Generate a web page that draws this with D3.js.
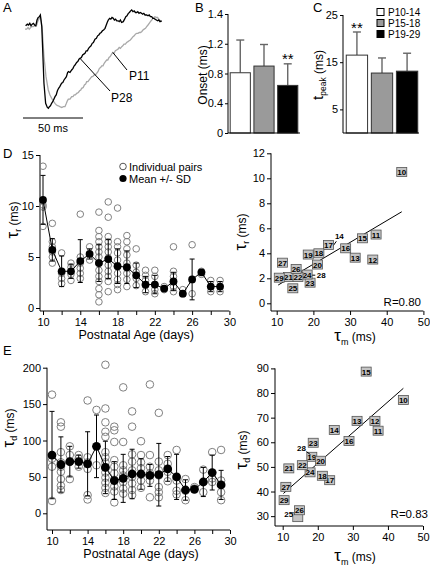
<!DOCTYPE html>
<html><head><meta charset="utf-8">
<script src="https://cdn.jsdelivr.net/npm/d3@7"></script>
<style>body{margin:0;background:#fff}svg{display:block;font-family:"Liberation Sans",Arial,sans-serif}</style>
</head><body><svg id="c" width="430" height="567"></svg>
<script>
// ---------------- DATA ----------------
// Panel A: sample traces (time ms, normalized amplitude %)
const traceP28 = [[0.5,-1],[2,1],[3,0],[4,2],[5,-1],[6,1],[7,2],[8,0],[9,-1],[10,6],[11,9],[12,10],[12.8,12],[13.5,4],[14,-2],[14.75,-30],[15.8,-70],[17.2,-94],[18.6,-99],[19.5,-100],[20.3,-98],[21.2,-97],[22.2,-94],[23.5,-91],[25,-86],[26,-84],[27,-79],[28,-76],[29,-74],[30.5,-70],[31.5,-69],[32.5,-66],[33.5,-64],[34.5,-62],[35.5,-57],[36.2,-56],[37.5,-57],[38.9,-54],[40,-52],[41,-49],[41.7,-48],[43,-45],[44,-44],[45,-41],[45.8,-40],[47,-39],[48,-36],[49,-35],[50,-34],[51,-31],[52,-31],[53,-28],[54.2,-26],[55,-25],[56,-22],[57,-21],[58.3,-17],[59.5,-16],[60.5,-13],[61.5,-12],[62.5,-10],[63.5,-9],[64.5,-7],[65.5,-6],[66.7,-4],[67.5,-1],[68.5,3],[69.4,6],[70.5,8],[71.5,7],[72.5,9],[73.6,8],[74.5,6],[75.5,7],[76.5,5],[77.7,5],[78.5,4],[79.5,6],[80.5,3],[81.9,4],[83,7],[84,10],[85,11],[86.1,14],[87,15],[88,17],[88.9,18],[90,16],[91,17],[92,15],[93.1,15],[94,16],[95,14],[96,15],[97.2,14],[98,13],[99,14],[100,12],[101.4,12],[102.5,11],[103.5,12],[104.5,10],[105.6,10],[106.5,8],[107.5,8],[108.3,7],[109.5,6],[110.5,5],[111.5,6],[112.5,4],[113.9,5]];
const traceP11 = [[0,-5],[1.4,-5],[2.5,-3],[3.5,-5],[4.2,-4],[5.5,-2],[6.9,-2],[8,-1],[9.75,0],[10.8,5],[11.9,8],[12.7,10],[13.5,4],[14.4,-6],[15.8,-38],[17.5,-62],[19.4,-78],[20.8,-84],[22.2,-88],[23.5,-91],[25,-94],[26.2,-96],[27.7,-97],[29,-98],[30.6,-99],[32,-98],[33.3,-98],[34.5,-94],[35.3,-91],[36.1,-89],[37.5,-89],[38.9,-86],[40,-86],[41,-84],[42,-84],[43.1,-82],[44.5,-81],[45.5,-79],[46.5,-78],[47.2,-76],[48.5,-75],[49.5,-72],[50.5,-71],[51.4,-68],[52.5,-68],[53.5,-66],[54.5,-64],[55.6,-62],[56.5,-62],[57.5,-60],[58.5,-60],[59.7,-58],[60.8,-56],[62,-52],[63,-51],[63.9,-49],[65,-49],[66,-46],[67,-44],[68.1,-42],[69,-42],[70,-39],[71,-38],[72.2,-35],[73.2,-33],[74.2,-34],[75.3,-31],[76.4,-30],[77.5,-29],[78.5,-27],[79.5,-28],[80.6,-26],[81.5,-25],[82.5,-23],[83.7,-23],[84.7,-21],[85.8,-20],[86.8,-19],[87.8,-18],[88.9,-16],[90,-14],[91,-13],[92,-11],[93.1,-10],[94.2,-10],[95.2,-9],[96.2,-9],[97.2,-8],[98.3,-6],[99.3,-5],[100.4,-4],[101.4,-2],[102.5,0],[103.5,2],[104.5,4],[105.6,6],[106.5,8],[107.4,9],[108.3,10],[109.5,9],[110.5,9],[111,8],[112,6],[113,5],[113.9,4]];
const scaleBarMs = 50;

// Panels B, C
const groups = ["P10-14","P15-18","P19-29"];
const onsetMean = [0.81,0.90,0.64];
const onsetSD = [0.44,0.29,0.29];
const onsetTicks = [0,0.4,0.8,1.2,1.6];
const onsetTickLabels = ["0","0.4","0.8","1.2","1.4"];
const tpeakMean = [16.5,12.7,13.1];
const tpeakSD = [4.9,3.2,3.8];
const tpeakTicks = [5,15,25];

// Panel D/E left: postnatal age
const ages = [10,11,12,13,14,15,16,17,18,19,20,21,22,23,24,25,26,27,28,29];
const tauRPairs = [
 [13.9,10.1,9.9,8.0],[8.3,6.5,6.0,5.5,5.0,4.4],[5.4,3.4,2.9,2.4],[4.4,4.0,3.3,2.7],
 [9.2,5.0,4.4,3.9,3.4,2.9],[6.0,4.7],[9.4,7.6,7.0,6.5,6.0,5.5,5.0,4.4,3.7,3.1,2.6,1.9,1.3,0.6],
 [10.4,8.9,7.0,6.5,6.0,5.5,4.9,4.2,3.6,3.1,2.6,1.6],[9.8,6.5,6.0,5.4,4.7,4.1,3.4,2.8,2.3,1.8],
 [7.1,6.5,5.8,5.2,4.4,3.9,3.4,2.8,2.1],[5.8,4.2,3.5,2.9,2.2],[3.7,3.2,2.7,2.2,1.6],
 [3.7,3.1,2.3,1.8,1.4],[2.1,1.8],[6.0,3.6,3.1,2.6,2.1,1.6],[1.8,1.4],[6.2,1.4],[3.6,3.3],[2.7,1.6],[2.7,1.6]];
const tauRMean = [10.6,5.7,3.6,3.6,4.6,5.3,4.4,4.8,4.1,4.0,3.2,2.3,2.3,1.9,2.6,1.4,2.8,3.5,2.1,2.1];
const tauRSD = [2.4,1.1,1.5,0.7,2.1,0.5,1.8,1.9,1.7,1.6,1.2,0.8,0.9,0.2,0.9,0.2,2.0,0.2,0.5,0.5];
const tauDPairs = [
 [163,75,64,17],[125,119,84,70,64,57,47,38,32],[92,80,71,47],[80,75,64],[155,77,70,61,25,19],[142,66],
 [204,144,125,112,105,84,77,70,63,56,49,42,35,28],[119,114,98,73,64,55,46,37,30,15],[173,98,66,59,52,43,34,27],
 [140,119,81,71,59,50,41,32,25],[99,80,70,62,53,45,35],[177,80,64,55,45,22],[138,71,59,52,36,29,22],
 [80,68,57,44],[87,45,31,26],[47,31,18],[36,34],[60,43,29],[84,48,43],[87,45,29,18]];
const tauDMean = [80,67,71,71,68,92,63,45,48,54,54,52,53,61,50,32,33,43,56,39];
const tauDSD = [60,38,21,9,44,43,36,26,33,34,21,15,43,17,31,14,3,20,24,20];
const ageTicks = [10,12,14,16,18,20,22,24,26,28,30];
const ageTickLabels = ["10","","14","","18","","22","","26","","30"];

// Right scatter plots: per-age means vs membrane time constant
const pointLabels = ["10","11","12","13","14","15","16","17","18","19","20","21","22","23","24","25","26","27","28","29"];
const rTauM = [44.1,37.1,36.2,31.4,24.9,33.4,28.8,24.1,21.5,18.6,21.1,13.2,15.8,19.1,18.3,14.4,15.3,11.6,19.7,10.7];
const rTauR = [10.5,5.5,3.5,3.65,4.4,5.2,4.4,4.66,4.0,3.9,3.1,2.1,2.1,1.65,2.3,1.2,2.75,3.25,2.25,2.05];
const rFit = {slope:0.174, intercept:-0.35, from:10.4, to:44.1, R:"R=0.80"};
const dTauM = [44.4,37.2,36.3,31.2,24.7,33.8,28.9,23.4,21.3,18.3,20.8,11.75,15.6,18.7,17.8,14.3,14.8,10.9,17.9,10.4];
const dTauD = [77.2,64.7,68.7,68.7,65,88.7,60.5,44.6,46.4,54.1,52.5,49.4,50.7,59.8,47.8,29.6,32.4,41.9,55,36.5];
const dFit = {slope:1.249, intercept:26.46, from:10.2, to:44.4, R:"R=0.83"};

// ---------------- DRAWING ----------------
const svg = d3.select("#c");
const FS = 11;
function txt(x,y,s,size,anchor){return svg.append("text").attr("x",x).attr("y",y).attr("font-size",size||FS).attr("text-anchor",anchor||"start").text(s);}
function styleAxis(g){g.attr("font-family",null).attr("font-size",FS);g.select(".domain").remove();g.selectAll(".tick line").attr("stroke","#000");g.selectAll(".tick text").attr("fill","#000");}
function vline(x,y1,y2){svg.append("line").attr("x1",x).attr("x2",x).attr("y1",y1).attr("y2",y2).attr("stroke","#000");}
function hline(y,x1,x2){svg.append("line").attr("x1",x1).attr("x2",x2).attr("y1",y).attr("y2",y).attr("stroke","#000");}
function yLabelTau(x,y,sub){
  const t=svg.append("text").attr("transform",`translate(${x},${y}) rotate(-90)`).attr("text-anchor","middle");
  t.append("tspan").attr("font-size",17).text("τ");
  t.append("tspan").attr("font-size",9).attr("dy",3).text(sub);
  t.append("tspan").attr("font-size",12).attr("dy",-3).text(" (ms)");
}
function xLabelTau(x,y,sub){
  const t=svg.append("text").attr("x",x).attr("y",y).attr("text-anchor","middle");
  t.append("tspan").attr("font-size",17).text("τ");
  t.append("tspan").attr("font-size",9).attr("dy",4).text(sub);
  t.append("tspan").attr("font-size",12).attr("dy",-4).text("  (ms)");
}

// Panel A
txt(3,12,"A",13);
const xA = d3.scaleLinear().domain([0,115]).range([25,163]);
const yA = d3.scaleLinear().domain([-100,18]).range([108.3,10]);
const lineA = d3.line().x(d=>xA(d[0])).y(d=>yA(d[1]));
svg.append("path").attr("d",lineA(traceP11)).attr("fill","none").attr("stroke","#a8a8a8").attr("stroke-width",1.3);
svg.append("path").attr("d",lineA(traceP28)).attr("fill","none").attr("stroke","#000").attr("stroke-width",1.3);
const pB = traceP28.find(d=>d[0]>=45.8), pG = traceP11.find(d=>d[0]>=73.2);
svg.append("line").attr("x1",xA(pB[0])).attr("y1",yA(pB[1])).attr("x2",110).attr("y2",91).attr("stroke","#000");
svg.append("line").attr("x1",xA(pG[0])).attr("y1",yA(pG[1])).attr("x2",127).attr("y2",70).attr("stroke","#000");
txt(129,80,"P11",12);
txt(111,102,"P28",12);
hline(118,23,23+xA(scaleBarMs)-xA(0));
txt(53,132,"50 ms",11,"middle");

// Panel B
txt(195,12,"B",13);
const xB = d3.scaleBand().domain(groups).range([229,299]).paddingInner(0.15).paddingOuter(0.05);
const yB = d3.scaleLinear().domain([0,1.6]).range([133,14]);
const fills = ["#ffffff","#9a9a9a","#000000"];
function bars(xs,ys,means,sds){
  groups.forEach((g,i)=>{
    const cx = xs(g)+xs.bandwidth()/2;
    svg.append("line").attr("x1",cx).attr("x2",cx).attr("y1",ys(means[i])).attr("y2",ys(means[i]+sds[i])).attr("stroke","#666").attr("stroke-width",1.4);
    svg.append("line").attr("x1",cx-4).attr("x2",cx+4).attr("y1",ys(means[i]+sds[i])).attr("y2",ys(means[i]+sds[i])).attr("stroke","#666").attr("stroke-width",1.4);
    svg.append("rect").attr("x",xs(g)).attr("width",xs.bandwidth()).attr("y",ys(means[i])).attr("height",ys(0)-ys(means[i])).attr("fill",fills[i]).attr("stroke","#333");
  });
}
bars(xB,yB,onsetMean,onsetSD);
styleAxis(svg.append("g").attr("transform","translate(228,0)").call(d3.axisLeft(yB).tickValues(onsetTicks).tickFormat((d,i)=>onsetTickLabels[i]).tickSize(3).tickPadding(2)));
vline(228,14,133); hline(133,228,300);
txt(xB(groups[2])+xB.bandwidth()/2,64,"**",15,"middle");
svg.append("text").attr("transform","translate(207,75) rotate(-90)").attr("text-anchor","middle").attr("font-size",12).text("Onset (ms)");

// Panel C
txt(313,12,"C",13);
const xC = d3.scaleBand().domain(groups).range([345,419]).paddingInner(0.15).paddingOuter(0.05);
const yC = d3.scaleLinear().domain([0,25]).range([133,15]);
bars(xC,yC,tpeakMean,tpeakSD);
styleAxis(svg.append("g").attr("transform","translate(343,0)").call(d3.axisLeft(yC).tickValues(tpeakTicks).tickSize(3).tickPadding(2)));
vline(343,15,133); hline(133,343,419);
txt(xC(groups[0])+xC.bandwidth()/2,33,"**",15,"middle");
{const t=svg.append("text").attr("transform","translate(323,75) rotate(-90)").attr("text-anchor","middle");
 t.append("tspan").attr("font-size",15).text("t");
 t.append("tspan").attr("font-size",8.5).attr("dy",3).text("peak");
 t.append("tspan").attr("font-size",12).attr("dy",-3).text(" (ms)");}
groups.forEach((g,i)=>{
  svg.append("rect").attr("x",377).attr("y",8.5+i*11).attr("width",7).attr("height",7).attr("fill",fills[i]).attr("stroke","#000");
  txt(388,16+i*11,g,10);
});

// Scatter by age (D left, E left)
function agePanel(o){
  const x = d3.scaleLinear().domain([10,30]).range(o.xr);
  const y = d3.scaleLinear().domain(o.yd).range(o.yr);
  styleAxis(svg.append("g").attr("transform",`translate(${o.ax},0)`).call(d3.axisLeft(y).tickValues(o.yt).tickSize(4).tickPadding(2)));
  styleAxis(svg.append("g").attr("transform",`translate(0,${o.ay})`).call(d3.axisBottom(x).tickValues(ageTicks).tickFormat((d,i)=>ageTickLabels[i]).tickSize(4).tickPadding(3)));
  vline(o.ax,y(o.yd[1]),o.ay); hline(o.ay,o.ax,x(30));
  ages.forEach((a,i)=>{
    o.pairs[i].forEach(v=>svg.append("circle").attr("cx",x(a)).attr("cy",y(v)).attr("r",o.r).attr("fill","none").attr("stroke","#808080").attr("stroke-width",1));
  });
  ages.forEach((a,i)=>{
    const t=y(o.mean[i]+o.sd[i]), b=y(Math.max(0,o.mean[i]-o.sd[i]));
    vline(x(a),t,b); hline(t,x(a)-2.5,x(a)+2.5); hline(b,x(a)-2.5,x(a)+2.5);
  });
  svg.append("path").attr("d",d3.line().x((d,i)=>x(ages[i])).y(d=>y(d))(o.mean)).attr("fill","none").attr("stroke","#000");
  ages.forEach((a,i)=>svg.append("circle").attr("cx",x(a)).attr("cy",y(o.mean[i])).attr("r",o.r+0.6).attr("fill","#000"));
  txt((o.xr[0]+x(30))/2,o.ay+28,"Postnatal Age (days)",12.5,"middle");
}
txt(3,158,"D",13);
agePanel({xr:[43,229.4],yd:[0,15],yr:[308,155],yt:[0,5,10,15],ax:40,ay:311,r:3.3,pairs:tauRPairs,mean:tauRMean,sd:tauRSD});
yLabelTau(18,220,"r");
svg.append("circle").attr("cx",123).attr("cy",166.5).attr("r",3.3).attr("fill","none").attr("stroke","#555");
txt(129,170.5,"Individual pairs",11);
svg.append("circle").attr("cx",123).attr("cy",178.5).attr("r",3.6).attr("fill","#000");
txt(129,182.5,"Mean +/- SD",11);

txt(3,355,"E",13);
agePanel({xr:[52,230],yd:[0,200],yr:[513.3,367.7],yt:[0,50,100,150,200],ax:47,ay:530,r:3.8,pairs:tauDPairs,mean:tauDMean,sd:tauDSD});
yLabelTau(14,428,"d");

// Right scatters
function scatterPanel(o){
  const x = d3.scaleLinear().domain([10,50]).range(o.xr);
  const y = d3.scaleLinear().domain(o.yd).range(o.yr);
  styleAxis(svg.append("g").attr("transform",`translate(${o.ax},0)`).call(d3.axisLeft(y).tickValues(o.yt).tickSize(4).tickPadding(2)));
  styleAxis(svg.append("g").attr("transform",`translate(0,${o.ay})`).call(d3.axisBottom(x).tickValues([10,20,30,40,50]).tickSize(4).tickPadding(3)));
  vline(o.ax,y(o.yd[1]),o.ay); hline(o.ay,o.ax,x(50));
  svg.append("line").attr("x1",x(o.fit.from)).attr("y1",y(o.fit.intercept+o.fit.slope*o.fit.from))
     .attr("x2",x(o.fit.to)).attr("y2",y(o.fit.intercept+o.fit.slope*o.fit.to)).attr("stroke","#000");
  o.order.forEach(i=>{
    const px=x(o.xs[i]), py=y(o.ys[i]), lab=pointLabels[i], sp=o.special[lab];
    if(sp && sp.lead){
      svg.append("line").attr("x1",px).attr("y1",py).attr("x2",px+sp.lead[0]).attr("y2",py+sp.lead[1]).attr("stroke","#000");
      svg.append("text").attr("x",px+sp.dx).attr("y",py+sp.dy).attr("font-size",8).attr("font-weight","bold").attr("text-anchor","middle").text(lab);
      return;
    }
    svg.append("rect").attr("x",px-5).attr("y",py-4.5).attr("width",10).attr("height",9).attr("fill","#c4c4c4").attr("stroke","#555").attr("stroke-width",0.8);
    if(sp){svg.append("text").attr("x",px+sp.dx).attr("y",py+sp.dy).attr("font-size",8).attr("font-weight","bold").attr("text-anchor","middle").text(lab);}
    else svg.append("text").attr("x",px).attr("y",py+3).attr("font-size",8).attr("font-weight","bold").attr("text-anchor","middle").text(lab);
  });
  txt(o.rx,o.ry,o.fit.R,11.5,"end");
}
const drawOrder = [0,1,2,3,4,5,6,7,8,9,10,11,13,14,12,18,15,16,17,19];
scatterPanel({xr:[276.7,423.4],yd:[-0.6,12],yr:[310.8,153.3],yt:[0,2,4,6,8,10,12],ax:271,ay:311,
  xs:rTauM,ys:rTauR,fit:rFit,order:drawOrder,rx:421,ry:306,
  special:{"14":{lead:[5,-7],dx:8,dy:-9},"28":{lead:[3,0],dx:9,dy:3}}});
yLabelTau(246,232,"r");
xLabelTau(355,341,"m");

scatterPanel({xr:[282.7,423],yd:[26,90],yr:[526,368.4],yt:[30,40,50,60,70,80,90],ax:275,ay:526,
  xs:dTauM,ys:dTauD,fit:dFit,order:drawOrder,rx:428,ry:518,
  special:{"28":{lead:[-4,-3],dx:-9,dy:-4},"25":{dx:-9,dy:0}}});
yLabelTau(247,450,"d");
xLabelTau(355,561,"m");
</script></body></html>
